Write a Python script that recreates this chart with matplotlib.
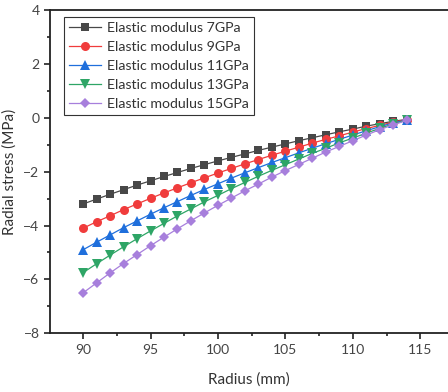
import matplotlib
matplotlib.use("Agg")
import matplotlib.pyplot as plt
from matplotlib.ticker import MultipleLocator

radius = list(range(90, 115))
labels = ["Elastic modulus 7GPa", "Elastic modulus 9GPa", "Elastic modulus 11GPa",
          "Elastic modulus 13GPa", "Elastic modulus 15GPa"]
s7 = [-3.20, -3.02, -2.84, -2.67, -2.50, -2.34, -2.18, -2.03, -1.88, -1.74, -1.60, -1.47, -1.34,
      -1.21, -1.09, -0.97, -0.85, -0.74, -0.63, -0.52, -0.42, -0.31, -0.22, -0.13, -0.06]
s9 = [-4.10, -3.86, -3.64, -3.41, -3.20, -2.99, -2.79, -2.60, -2.41, -2.23, -2.05, -1.88, -1.71,
      -1.55, -1.39, -1.24, -1.09, -0.94, -0.80, -0.67, -0.53, -0.40, -0.28, -0.16, -0.07]
s11 = [-4.90, -4.62, -4.35, -4.08, -3.83, -3.58, -3.34, -3.11, -2.88, -2.66, -2.45, -2.24, -2.04,
       -1.85, -1.66, -1.48, -1.30, -1.13, -0.96, -0.80, -0.64, -0.48, -0.33, -0.19, -0.08]
s13 = [-5.75, -5.42, -5.10, -4.79, -4.49, -4.20, -3.92, -3.64, -3.38, -3.12, -2.88, -2.63, -2.40,
       -2.17, -1.95, -1.74, -1.53, -1.32, -1.13, -0.93, -0.75, -0.57, -0.39, -0.23, -0.09]
s15 = [-6.50, -6.13, -5.76, -5.41, -5.08, -4.75, -4.43, -4.12, -3.82, -3.53, -3.25, -2.98, -2.71,
       -2.46, -2.20, -1.96, -1.73, -1.50, -1.27, -1.06, -0.85, -0.64, -0.44, -0.26, -0.10]
series = [s7, s9, s11, s13, s15]

colors = ["#484848", "#f03c3c", "#1f6fdc", "#2ea566", "#a77fdc"]
markers = ["s", "o", "^", "v", "D"]
msizes = [6, 6.5, 7, 7, 5.5]

plt.rcParams['font.family'] = ['Lato', 'DejaVu Sans']

fig = plt.figure(figsize=(4.48, 3.92), dpi=100)
ax = fig.add_axes([50/448, 1 - 333.3/392, 1 - 50/448, (333.3 - 10)/392])

for s, c, m, ms, lab in zip(series, colors, markers, msizes, labels):
    ax.plot(radius, s, color=c, marker=m, markersize=ms, linewidth=0.9, label=lab,
            markeredgewidth=0)

ax.set_xlim(87.55, 117.05)
ax.set_ylim(-8, 4)
ax.xaxis.set_major_locator(MultipleLocator(5))
ax.xaxis.set_minor_locator(MultipleLocator(2.5))
ax.yaxis.set_major_locator(MultipleLocator(2))
ax.yaxis.set_minor_locator(MultipleLocator(1))
ax.tick_params(which='both', direction='out', top=False, right=False, colors='#222222',
               labelcolor='#444444', labelsize=10)
ax.tick_params(which='major', length=4, width=1.2)
ax.tick_params(which='minor', length=2.5, width=1.2)
for sp in ['left', 'bottom', 'top']:
    ax.spines[sp].set_linewidth(1.3)
    ax.spines[sp].set_color('#222222')
ax.spines['right'].set_visible(False)

ax.set_xlabel("Radius (mm)", fontsize=11, color='#333333', labelpad=12)
ax.set_ylabel("Radial stress (MPa)", fontsize=11, color='#333333', labelpad=5)

leg = ax.legend(loc='upper left', bbox_to_anchor=(0.035, 0.978), fontsize=10.2,
                frameon=True, fancybox=False, edgecolor='#333333', framealpha=1,
                handlelength=2.3, labelspacing=0.5, borderpad=0.35, handletextpad=0.4,
                borderaxespad=0)
leg.get_frame().set_linewidth(0.8)
for t in leg.get_texts():
    t.set_color('#333333')

fig.savefig("out.png", dpi=100)
